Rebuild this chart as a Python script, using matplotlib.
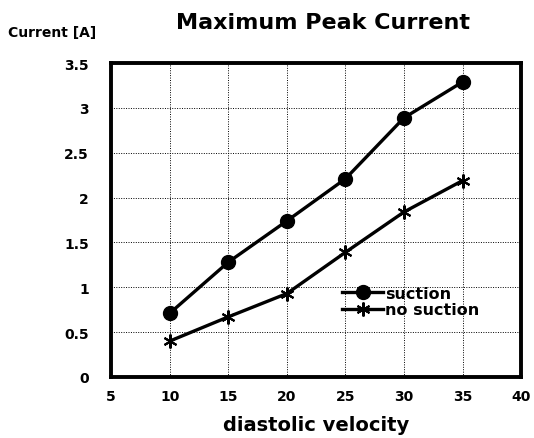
import numpy as np
import matplotlib
matplotlib.use('Agg')
import matplotlib.pyplot as plt

plt.rcParams['font.family'] = ['DejaVu Sans']

velocity = [10, 15, 20, 25, 30, 35]
suction = [0.71, 1.28, 1.74, 2.21, 2.89, 3.29]
no_suction = [0.40, 0.67, 0.93, 1.39, 1.84, 2.19]

x_ticks = [5, 10, 15, 20, 25, 30, 35, 40]
y_ticks = [0, 0.5, 1, 1.5, 2, 2.5, 3, 3.5]
y_labels = ['0', '0.5', '1', '1.5', '2', '2.5', '3', '3.5']

fig = plt.figure(figsize=(5.34, 4.39), dpi=100)
ax = fig.add_axes([0.208, 0.139, 0.768, 0.715])

ax.plot(velocity, suction, '-', color='black', lw=2.4, marker='o', ms=10,
        label='suction', zorder=3)
ax.plot(velocity, no_suction, '-', color='black', lw=2.4, marker=(6, 2, 0),
        ms=10, mew=1.5, label='no suction', zorder=3)

ax.set_xlim(5, 40)
ax.set_ylim(0, 3.5)
ax.set_xticks(x_ticks)
ax.set_yticks(y_ticks)
ax.set_yticklabels(y_labels)
ax.tick_params(axis='y', length=0, labelsize=10, pad=16)
ax.tick_params(axis='x', length=0, labelsize=10, pad=9)
for lab in ax.get_xticklabels() + ax.get_yticklabels():
    lab.set_fontweight('bold')
ax.grid(True, color='black', linestyle=(0, (1, 1.5)), linewidth=0.7)
for sp in ax.spines.values():
    sp.set_linewidth(2.8)

ax.set_xlabel('diastolic velocity', fontsize=14, fontweight='bold', labelpad=8)
fig.text(0.605, 0.948, 'Maximum Peak Current', ha='center', va='center',
         fontsize=16, fontweight='bold')
fig.text(0.015, 0.925, 'Current [A]', ha='left', va='center',
         fontsize=10, fontweight='bold')

ax.legend(loc='lower right', bbox_to_anchor=(0.925, 0.155), frameon=False,
          handlelength=2.6, handletextpad=0.1, borderpad=0.2,
          labelspacing=0.1, prop={'weight': 'bold', 'size': 11.5})

fig.savefig('out.png', dpi=100)
